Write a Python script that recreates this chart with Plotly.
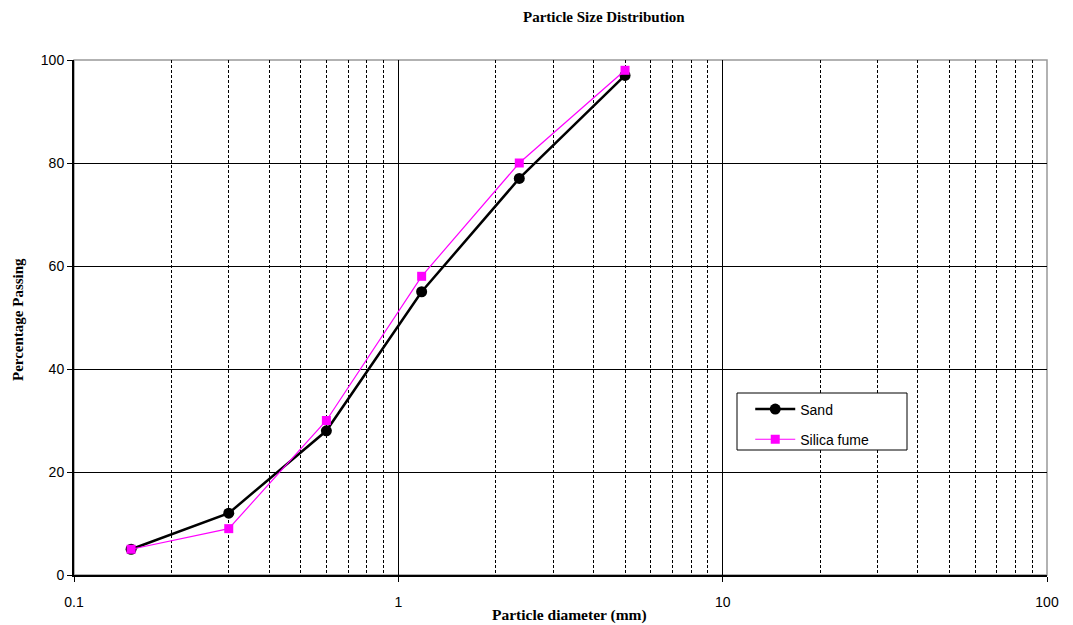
import plotly.graph_objects as go

sieve_mm = [0.15, 0.3, 0.6, 1.18, 2.36, 5]
sand_pass = [5, 12, 28, 55, 77, 97]
silica_pass = [5, 9, 30, 58, 80, 98]
x_major = [0.1, 1, 10, 100]
x_major_text = ["0.1", "1", "10", "100"]
x_minor = [m * 10 ** e for e in (-1, 0, 1) for m in range(2, 10)]
y_ticks = [0, 20, 40, 60, 80, 100]

fig = go.Figure()
fig.add_trace(go.Scatter(x=sieve_mm, y=sand_pass, name="Sand", mode="lines+markers",
                         legendgroup="a",
                         line=dict(color="black", width=2.5),
                         marker=dict(symbol="circle", size=11, color="black")))
fig.add_trace(go.Scatter(x=sieve_mm, y=silica_pass, name="Silica fume", mode="lines+markers",
                         legendgroup="b",
                         line=dict(color="#ff00ff", width=1.2),
                         marker=dict(symbol="square", size=9, color="#ff00ff")))

L, R, T, B = 66, 34, 52, 58
W, H = 1073, 625
PW, PH = W - L - R, H - T - B
serif = "Liberation Serif, Times New Roman"


def px(xw):  # window x -> paper
    return (xw - 8 - L) / PW


def py(yw):  # window y -> paper
    return (H - B - (yw - 8)) / PH


fig.update_layout(
    width=W, height=H,
    margin=dict(l=L, r=R, t=T, b=B, autoexpand=False),
    paper_bgcolor="white", plot_bgcolor="white",
    font=dict(family="Liberation Sans, Arial", size=14, color="black"),
    legend=dict(x=0.695, y=0.3525, xanchor="left", yanchor="top", bgcolor="rgba(0,0,0,0)",
                borderwidth=0, font=dict(size=14),
                itemwidth=40, tracegroupgap=9),
    showlegend=True,
    annotations=[
        dict(text="<b>Particle Size Distribution</b>", xref="paper", yref="paper",
             x=px(604), y=py(17), xanchor="center", yanchor="middle", showarrow=False,
             font=dict(family=serif, size=15)),
        dict(text="<b>Particle diameter (mm)</b>", xref="paper", yref="paper",
             x=px(569), y=py(615), xanchor="center", yanchor="middle", showarrow=False,
             font=dict(family=serif, size=15.5)),
        dict(text="<b>Percentage Passing</b>", xref="paper", yref="paper",
             x=px(18), y=py(320), xanchor="center", yanchor="middle", showarrow=False,
             textangle=-90, font=dict(family=serif, size=15)),
    ],
)
fig.update_xaxes(type="log", range=[-1, 2], tickvals=x_major, ticktext=x_major_text,
                 showgrid=True, gridcolor="black", gridwidth=1, automargin=False,
                 ticks="outside", ticklen=5, tickcolor="black", ticklabelstandoff=8,
                 showline=True, linecolor="black", linewidth=2, mirror=False,
                 zeroline=False,
                 minor=dict(tickvals=x_minor, showgrid=True, gridcolor="black",
                            griddash="3px,2px", gridwidth=1, ticks=""))
fig.update_yaxes(range=[0, 100], tickvals=y_ticks, showgrid=True, gridcolor="black", gridwidth=1,
                 automargin=False,
                 ticks="outside", ticklen=5, tickcolor="black",
                 showline=True, linecolor="black", linewidth=2, zeroline=False)
# gray top/right border
fig.add_shape(type="rect", xref="paper", yref="paper", x0=0, x1=1, y0=0, y1=1,
              line=dict(color="#999999", width=1.5), layer="below")
# legend frame
fig.add_shape(type="rect", xref="paper", yref="paper",
              x0=px(737), x1=px(907), y0=py(450), y1=py(393),
              line=dict(color="black", width=1), fillcolor="white", layer="above")

fig.write_html("out.html")
